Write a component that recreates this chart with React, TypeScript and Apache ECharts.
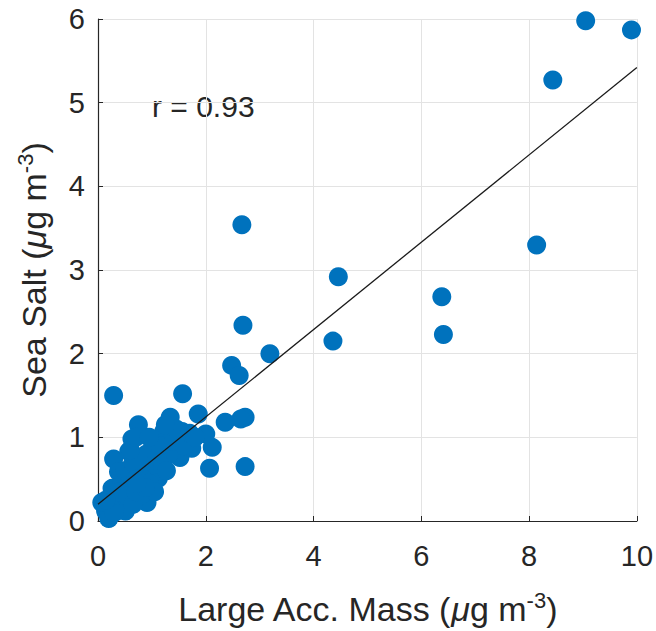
import React, { useEffect, useRef } from "react";
import * as echarts from "echarts";

const massX: number[] = [
  9.05, 9.9, 8.44, 8.14, 6.38, 6.41, 4.46, 4.36, 3.19, 2.67, 2.69, 2.48, 2.62, 2.73, 2.65, 2.73,
  2.36, 2.12, 2.07, 2.0, 1.86, 1.57, 0.29, 1.34, 1.22, 1.56, 0.75, 1.74, 1.52, 1.31, 0.29, 0.63,
  0.57, 1.0, 1.12, 0.91, 0.57, 0.26, 0.14, 0.2, 0.51, 0.81, 0.38, 0.81, 1.03, 0.75, 0.44, 0.07,
  0.35, 0.45, 0.5, 0.6, 0.65, 0.7, 0.85, 0.9, 0.95, 1.1, 1.15, 1.2, 1.4, 1.45, 1.6, 1.7,
  1.8, 0.3, 0.25, 0.4, 0.55, 0.65, 0.7, 0.15, 0.6, 0.7, 1.05, 0.95, 1.25, 1.27, 0.88, 0.72,
];
const seaSaltY: number[] = [
  5.98, 5.87, 5.27, 3.3, 2.68, 2.23, 2.92, 2.15, 2.0, 3.54, 2.34, 1.86, 1.74, 1.24, 1.22, 0.65,
  1.18, 0.88, 0.63, 1.04, 1.28, 1.52, 1.5, 1.24, 1.07, 1.07, 1.15, 0.87, 0.76, 0.79, 0.74, 0.98,
  0.83, 0.63, 0.51, 0.22, 0.43, 0.39, 0.12, 0.03, 0.12, 0.31, 0.59, 0.67, 0.91, 0.75, 0.27, 0.22,
  0.2, 0.45, 0.6, 0.55, 0.7, 0.5, 0.5, 0.8, 0.45, 0.75, 0.9, 0.65, 0.95, 1.1, 0.9, 1.05,
  1.0, 0.1, 0.3, 0.35, 0.3, 0.2, 0.35, 0.25, 0.85, 1.0, 0.35, 1.0, 1.15, 0.6, 0.4, 0.45,
];
const fitX: number[] = [0, 10];
const fitY: number[] = [0.2, 5.42];
const xTicks: number[] = [0, 2, 4, 6, 8, 10];
const yTicks: number[] = [0, 1, 2, 3, 4, 5, 6];
const corrLabel = "r = 0.93";

export default function App() {
  const ref = useRef<HTMLDivElement>(null);
  useEffect(() => {
    if (!ref.current) return;
    const chart = echarts.init(ref.current, null, { renderer: "svg" });
    const font = "'Liberation Sans', Arial, sans-serif";
    const axisCommon = {
      axisLine: { show: true, onZero: false, lineStyle: { color: "#262626", width: 1.2 } },
      axisTick: { show: true, inside: true, length: 5, lineStyle: { color: "#262626" } },
      splitLine: { show: true, lineStyle: { color: "#e3e3e3", width: 1 } },
      axisLabel: { color: "#262626", fontSize: 29, fontFamily: font },
    };
    const nameRich = {
      a: { fontSize: 34, fontFamily: font, color: "#262626" },
      mu: { fontSize: 34, fontFamily: font, color: "#262626", fontStyle: "italic" },
      sup: { fontSize: 22, fontFamily: font, color: "#262626", verticalAlign: "top", lineHeight: 40 },
    };
    chart.setOption({
      animation: false,
      grid: { left: 98, top: 19, width: 543, height: 504, containLabel: false },
      xAxis: {
        type: "value",
        min: xTicks[0],
        max: xTicks[xTicks.length - 1],
        interval: xTicks[1] - xTicks[0],
        ...axisCommon,
        axisLabel: { ...axisCommon.axisLabel, margin: 20 },
        name: "{a|Large Acc. Mass (}{mu|μ}{a|g m}{sup|-3}{a|)}",
        nameLocation: "middle",
        nameGap: 68,
        nameTextStyle: { rich: nameRich },
      },
      yAxis: {
        type: "value",
        min: yTicks[0],
        max: yTicks[yTicks.length - 1],
        interval: yTicks[1] - yTicks[0],
        ...axisCommon,
        axisLabel: { ...axisCommon.axisLabel, margin: 13 },
        name: "{a|Sea Salt (}{mu|μ}{a|g m}{sup|-3}{a|)}",
        nameLocation: "middle",
        nameGap: 44,
        nameTextStyle: { rich: nameRich },
      },
      series: [
        {
          type: "scatter",
          data: massX.map((x, i) => [x, seaSaltY[i]]),
          symbolSize: 19,
          itemStyle: { color: "#0072BD", opacity: 1 },
          z: 2,
        },
        {
          type: "line",
          data: fitX.map((x, i) => [x, fitY[i]]),
          symbol: "none",
          lineStyle: { color: "#1a1a1a", width: 1.3 },
          z: 3,
        },
      ],
      graphic: [
        {
          type: "text",
          x: 152,
          y: 106,
          style: {
            text: corrLabel,
            fontSize: 30,
            fontFamily: font,
            fill: "#262626",
            verticalAlign: "middle",
          },
        },
      ],
    });
    return () => chart.dispose();
  }, []);
  return (
    <div
      ref={ref}
      style={{ position: "fixed", left: 0, top: 0, width: 656, height: 631, background: "#fff" }}
    />
  );
}
